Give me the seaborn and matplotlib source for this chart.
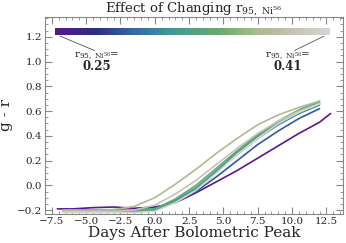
import numpy as np
import pandas as pd
import matplotlib
matplotlib.use("Agg")
import matplotlib.pyplot as plt
from matplotlib.colors import LinearSegmentedColormap
from matplotlib.ticker import MultipleLocator
import seaborn as sns

# r_95,Ni56 values of the models
r95 = [0.25, 0.29, 0.31, 0.32, 0.33, 0.34, 0.37, 0.39, 0.41]

days = [-6.7, -4.5, -3.0, -1.5, 0.0, 1.5, 3.0, 4.5, 6.0, 7.5, 9.0, 10.5, 12.0]
days_purple = [-7.1, -6.0, -4.5, -3.0, -1.5, 0.0, 1.5, 3.0, 4.5, 6.0, 7.5, 9.0, 10.5, 12.0, 12.8]

gr_a = [-0.19, -0.19, -0.18, -0.175, -0.185, -0.175, -0.14, -0.06, 0.03, 0.12, 0.22, 0.32, 0.42, 0.51, 0.58]
gr_b = [-0.20, -0.20, -0.20, -0.20, -0.19, -0.13, -0.05, 0.07, 0.20, 0.33, 0.44, 0.54, 0.62]
gr_c = [-0.20, -0.20, -0.20, -0.20, -0.20, -0.13, -0.03, 0.11, 0.25, 0.38, 0.49, 0.58, 0.65]
gr_d = [-0.21, -0.21, -0.21, -0.20, -0.19, -0.12, -0.02, 0.12, 0.26, 0.39, 0.50, 0.59, 0.66]
gr_e = [-0.21, -0.21, -0.21, -0.21, -0.20, -0.13, -0.03, 0.12, 0.27, 0.40, 0.51, 0.60, 0.67]
gr_f = [-0.20, -0.20, -0.20, -0.20, -0.19, -0.11, 0.00, 0.14, 0.28, 0.41, 0.52, 0.61, 0.68]
gr_g = [-0.20, -0.20, -0.195, -0.17, -0.10, 0.01, 0.13, 0.26, 0.38, 0.49, 0.57, 0.63, 0.68]
gr_h = [-0.21, -0.21, -0.21, -0.20, -0.16, -0.07, 0.04, 0.17, 0.30, 0.42, 0.52, 0.60, 0.66]
gr_i = [-0.22, -0.22, -0.22, -0.22, -0.21, -0.14, -0.04, 0.10, 0.25, 0.38, 0.50, 0.59, 0.66]

curves = [gr_a, gr_b, gr_c, gr_d, gr_e, gr_f, gr_g, gr_h, gr_i]

rows = []
for r, gr in zip(r95, curves):
    d = days_purple if r == 0.25 else days
    for x, y in zip(d, gr):
        rows.append({"r95": r, "day": x, "gr": y})
df = pd.DataFrame(rows)

cmap = LinearSegmentedColormap.from_list(
    "rni", [(0.0, "#58188e"), (0.15, "#2c2f85"), (0.27, "#3562a6"), (0.42, "#3f9a96"),
            (0.6, "#6aaa6e"), (0.72, "#a3bb8a"), (0.83, "#c3bca8"), (1.0, "#d6d6d6")])
norm = plt.Normalize(0.25, 0.41)
palette = {r: cmap(norm(r)) for r in r95}

sns.set_style("ticks")
plt.rcParams["font.family"] = ["DejaVu Serif"]
plt.rcParams["mathtext.fontset"] = "dejavuserif"

fig = plt.figure(figsize=(3.46, 2.43), dpi=100)
ax = fig.add_axes([0.13, 0.12, 0.861, 0.81])

sns.lineplot(data=df, x="day", y="gr", hue="r95", palette=palette, units="r95",
             estimator=None, sort=False, legend=False, lw=1.2, ax=ax)

# gradient bar
grad = np.linspace(0, 1, 256).reshape(1, -1)
ax.imshow(grad, cmap=cmap, aspect="auto", extent=[-7.3, 12.7, 1.215, 1.265], zorder=3)

lab = r"r$_{95,\ \mathrm{Ni}^{56}}$="
ax.annotate("", xy=(-7.1, 1.215), xytext=(-4.2, 1.08),
            arrowprops=dict(arrowstyle="-", color="#555555", lw=0.6))
ax.text(-4.2, 1.005, lab, ha="center", va="bottom", fontsize=7.5)
ax.text(-4.2, 1.01, "0.25", ha="center", va="top", fontsize=8.5, fontweight="bold")
ax.annotate("", xy=(12.5, 1.215), xytext=(10.0, 1.08),
            arrowprops=dict(arrowstyle="-", color="#555555", lw=0.6))
ax.text(9.7, 1.005, lab, ha="center", va="bottom", fontsize=7.5)
ax.text(9.7, 1.01, "0.41", ha="center", va="top", fontsize=8.5, fontweight="bold")

ax.set_xlim(-8.0, 13.7)
ax.set_ylim(-0.23, 1.36)
ax.xaxis.set_major_locator(MultipleLocator(2.5))
ax.xaxis.set_minor_locator(MultipleLocator(0.5))
ax.yaxis.set_major_locator(MultipleLocator(0.2))
ax.yaxis.set_minor_locator(MultipleLocator(0.05))
ax.tick_params(which="both", direction="in", top=True, right=True, color="#888888",
               labelsize=7.5, pad=2)
ax.tick_params(which="major", length=5)
ax.tick_params(which="minor", length=2.5)
for s in ax.spines.values():
    s.set_color("#888888")

ax.set_title(r"Effect of Changing r$_{95,\ \mathrm{Ni}^{56}}$", fontsize=9.5, pad=1)
ax.set_xlabel("Days After Bolometric Peak", fontsize=11, labelpad=0)
ax.set_ylabel("g - r", fontsize=11, labelpad=3)

fig.savefig("out.png", dpi=100)
